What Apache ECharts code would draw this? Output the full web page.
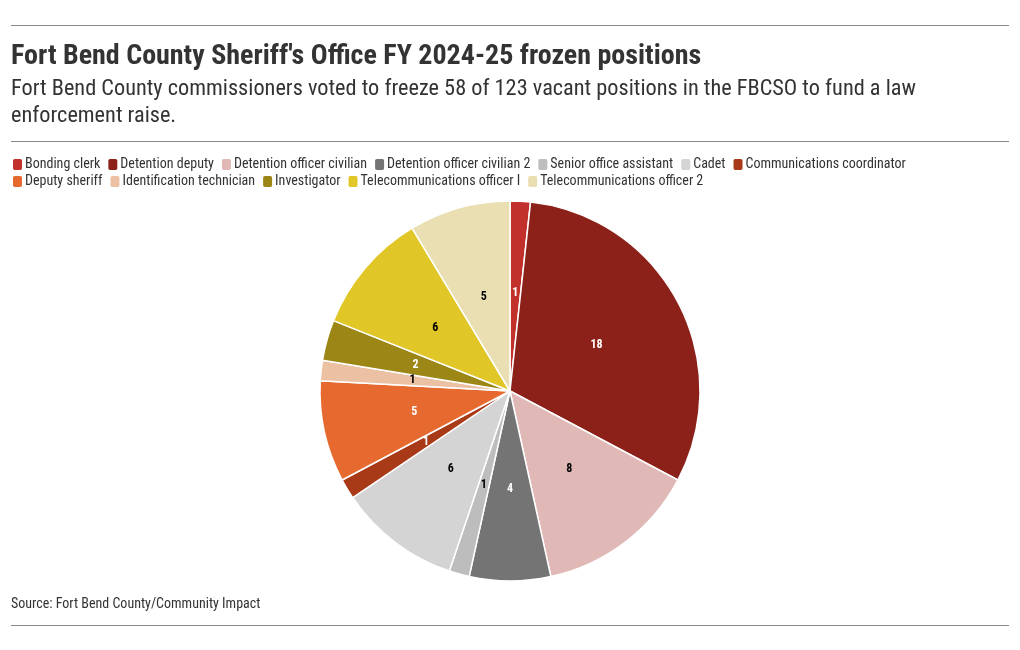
<!DOCTYPE html>
<html>
<head>
<meta charset="utf-8">
<script src="https://cdn.jsdelivr.net/npm/echarts@6/dist/echarts.min.js"></script>
<style>
html,body{margin:0;padding:0;background:#fff;}
#chart{width:1020px;height:650px;}
</style>
</head>
<body>
<div id="chart"></div>
<script>
const categories = ["Bonding clerk","Detention deputy","Detention officer civilian","Detention officer civilian 2","Senior office assistant","Cadet","Communications coordinator","Deputy sheriff","Identification technician","Investigator","Telecommunications officer I","Telecommunications officer 2"];
const values = [1,18,8,4,1,6,1,5,1,2,6,5];
const colors = ["#c1302b","#8b2119","#e0b8b5","#747474","#bdbdbd","#d3d4d3","#a83a17","#e66a2f","#ecc0a3","#9c8716","#e0c627","#e9dfb2"];
const labelColors = ["#fff","#fff","#000","#fff","#000","#000","#fff","#fff","#000","#fff","#000","#000"];

const FONT = "'Roboto Condensed','Liberation Sans Narrow','Roboto',sans-serif";
const chart = echarts.init(document.getElementById('chart'));
const row1 = categories.slice(0,7), row2 = categories.slice(7);
const legendBase = {
  left: 11, padding:0, orient:'horizontal', icon:'roundRect', itemWidth:11, itemHeight:13, itemGap:6,
  textStyle:{fontFamily:FONT, fontSize:14, color:'#333', padding:[0,0,0,-3]}, selectedMode:false
};
chart.setOption({
  animation:false,
  color: colors,
  title:[
    {text:"Fort Bend County Sheriff's Office FY 2024-25 frozen positions", left:11, top:43, padding:0,
     textStyle:{fontFamily:FONT, fontSize:28, fontWeight:'bold', color:'#333'}},
    {text:"Fort Bend County commissioners voted to freeze 58 of 123 vacant positions in the FBCSO to fund a law\nenforcement raise.", left:11, top:76, padding:0,
     textStyle:{fontFamily:FONT, fontSize:22.3, fontWeight:'normal', color:'#333', lineHeight:27}},
    {text:"Source: Fort Bend County/Community Impact", left:11, top:597, padding:0,
     textStyle:{fontFamily:FONT, fontSize:14, fontWeight:'normal', color:'#333'}}
  ],
  graphic:[
    {type:'line', shape:{x1:11,y1:25.5,x2:1009,y2:25.5}, style:{stroke:'#888',lineWidth:1}},
    {type:'line', shape:{x1:11,y1:141.5,x2:1009,y2:141.5}, style:{stroke:'#888',lineWidth:1}},
    {type:'line', shape:{x1:11,y1:625.5,x2:1009,y2:625.5}, style:{stroke:'#888',lineWidth:1}}
  ],
  legend:[
    Object.assign({top:157, data:row1}, legendBase),
    Object.assign({top:174, data:row2}, legendBase)
  ],
  series:[{
    type:'pie',
    center:[510,391],
    radius:[0,190],
    startAngle:90,
    clockwise:true,
    itemStyle:{borderColor:'#fff', borderWidth:1.5},
    label:{show:true, position:'inside', formatter:'{c}', fontFamily:FONT, fontSize:12, fontWeight:'bold'},
    labelLine:{show:false},
    emphasis:{disabled:true},
    data: categories.map((c,i)=>({name:c, value:values[i], label:{color:labelColors[i]}}))
  }]
});
</script>
</body>
</html>
